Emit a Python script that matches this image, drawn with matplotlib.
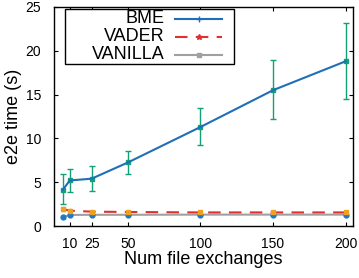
import matplotlib
matplotlib.use("Agg")
import matplotlib.pyplot as plt
from matplotlib.lines import Line2D
from matplotlib.patches import Rectangle

plt.rcParams['font.family'] = ['Liberation Sans', 'DejaVu Sans']

x = [5, 10, 25, 50, 100, 150, 200]
xticks = [10, 25, 50, 100, 150, 200]

bme = [4.1, 5.2, 5.4, 7.25, 11.3, 15.5, 18.8]
bme_lo = [2.5, 3.9, 4.0, 5.9, 9.2, 12.2, 14.5]
bme_hi = [5.9, 6.5, 6.8, 8.6, 13.5, 18.9, 23.2]

vader = [1.95, 1.75, 1.64, 1.6, 1.55, 1.55, 1.55]
vader_lo = [1.75, 1.6, 1.5, 1.45, 1.45, 1.45, 1.45]
vader_hi = [2.2, 1.9, 1.75, 1.75, 1.7, 1.7, 1.7]

vanilla = [1.0, 1.26, 1.28, 1.28, 1.3, 1.3, 1.3]

labels = ['BME', 'VADER', 'VANILLA']

c_bme = '#1f6fb8'
c_bme_err = '#12a078'
c_vader = '#e03030'
c_vader_err = '#f0a020'
c_van = '#a0a0a0'
c_van_pt = '#1f78c0'

fig = plt.figure(figsize=(3.59, 2.78), dpi=100)
ax = fig.add_axes([0.150, 0.187, 0.833, 0.788])

# VANILLA
ax.plot(x, vanilla, color=c_van, lw=1.5, zorder=2)
ax.plot(x, vanilla, 'o', color=c_van_pt, ms=3.5, zorder=3)
# VADER
ax.plot(x, vader, color=c_vader, lw=1.5, dashes=(6, 4), zorder=2)
ax.errorbar(x, vader, yerr=[[v - l for v, l in zip(vader, vader_lo)],
                            [h - v for v, h in zip(vader, vader_hi)]],
            fmt='s', color=c_vader_err, ms=3.5, capsize=1.5, elinewidth=1, zorder=3)
# BME
ax.plot(x, bme, color=c_bme, lw=1.5, zorder=4)
ax.errorbar(x, bme, yerr=[[v - l for v, l in zip(bme, bme_lo)],
                          [h - v for v, h in zip(bme, bme_hi)]],
            fmt='s', color=c_bme_err, ms=3, capsize=2, elinewidth=1, capthick=1, zorder=3)

ax.set_xlim(-1, 205)
ax.set_ylim(0, 25)
ax.set_xticks(xticks)
ax.set_yticks([0, 5, 10, 15, 20, 25])
ax.tick_params(direction='in', top=True, right=True, labelsize=10, length=3, width=0.8)
ax.tick_params(axis='x', pad=8)
ax.tick_params(axis='y', pad=9)
for s in ax.spines.values():
    s.set_linewidth(1.0)
ax.set_xlabel('Num file exchanges', fontsize=13, labelpad=0)
ax.set_ylabel('e2e time (s)', fontsize=13, labelpad=3)

# legend (gnuplot style: right-aligned text, sample after)
def fx(px):
    return (px - 54) / (353 - 54)
def fy(py):
    return (226 - py) / (226 - 7)

ax.add_patch(Rectangle((fx(65), fy(64)), fx(234) - fx(65), fy(9) - fy(64),
                       transform=ax.transAxes, fill=True, facecolor='white',
                       edgecolor='black', lw=1.0, zorder=5))
rows = [19, 37, 55]
styles = [dict(color=c_bme, lw=1.5, ls='-', marker='+', ms=4),
          dict(color=c_vader, lw=1.5, ls=(0, (6, 4)), marker='*', ms=4),
          dict(color=c_van, lw=1.5, ls='-', marker='s', ms=3)]
for lab, py, st in zip(labels, rows, styles):
    ax.text(fx(165), fy(py), lab, transform=ax.transAxes, ha='right', va='center',
            fontsize=13, zorder=6)
    ax.add_line(Line2D([fx(175), fx(222)], [fy(py), fy(py)], transform=ax.transAxes,
                       color=st['color'], lw=st['lw'], ls=st['ls'], zorder=6))
    ax.add_line(Line2D([fx(199)], [fy(py)], transform=ax.transAxes, color=st['color'],
                       marker=st['marker'], ms=st['ms'], ls='none', zorder=7))

fig.savefig('out.png', dpi=100)
